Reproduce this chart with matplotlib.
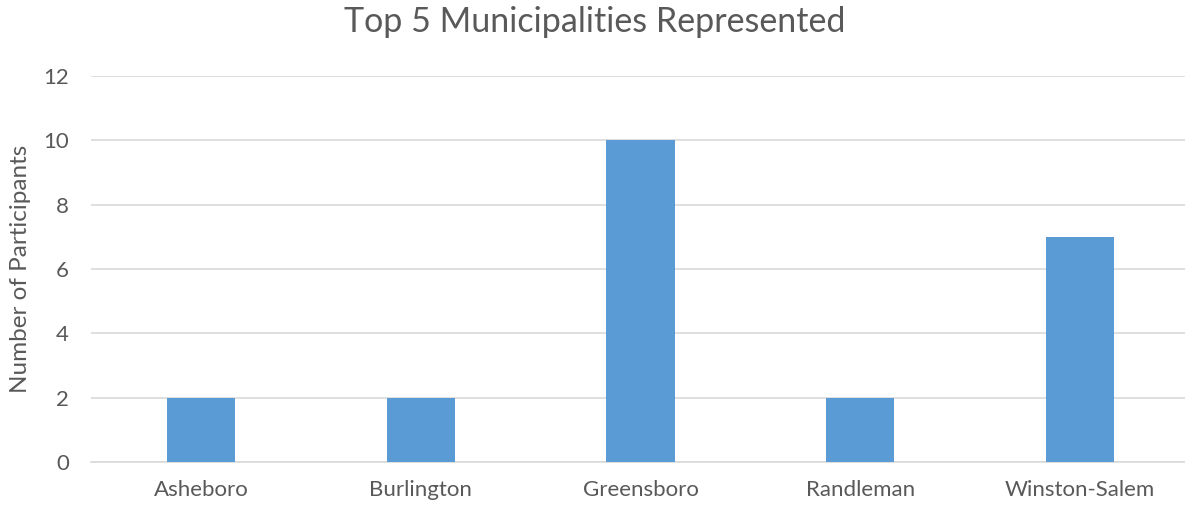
import matplotlib.pyplot as plt

categories = ["Asheboro", "Burlington", "Greensboro", "Randleman", "Winston-Salem"]
participants = [2, 2, 10, 2, 7]
y_ticks = [0, 2, 4, 6, 8, 10, 12]

plt.rcParams['font.family'] = ['Lato', 'DejaVu Sans']
text_color = "#595959"

fig = plt.figure(figsize=(11.85, 5.05), dpi=100)
# plot area runs slightly past the right edge of the canvas
ax = fig.add_axes([91 / 1185, 1 - 462 / 505, 1099 / 1185, 386 / 505])

x = range(len(categories))
ax.bar(x, participants, width=0.31, color="#5B9BD5", zorder=3)

ax.set_xlim(-0.5, len(categories) - 0.5)
ax.set_ylim(0, 12)
ax.set_yticks(y_ticks)
ax.set_xticks(list(x))
ax.set_xticklabels(categories)
ax.yaxis.grid(True, color="#D9D9D9", linewidth=1.2, zorder=0)
ax.tick_params(axis='both', length=0, colors=text_color, labelsize=16)
ax.tick_params(axis='y', pad=16)
ax.tick_params(axis='x', pad=13)

for side in ("top", "right", "left"):
    ax.spines[side].set_visible(False)
ax.spines["bottom"].set_color("#D9D9D9")
ax.spines["bottom"].set_linewidth(1.2)

ax.set_ylabel("Number of Participants", color=text_color, fontsize=17.5, labelpad=9)
fig.text(595 / 1185, 1 - 22 / 505, "Top 5 Municipalities Represented",
         ha="center", va="center", color=text_color, fontsize=24.5)

fig.savefig("out.png", dpi=100)
